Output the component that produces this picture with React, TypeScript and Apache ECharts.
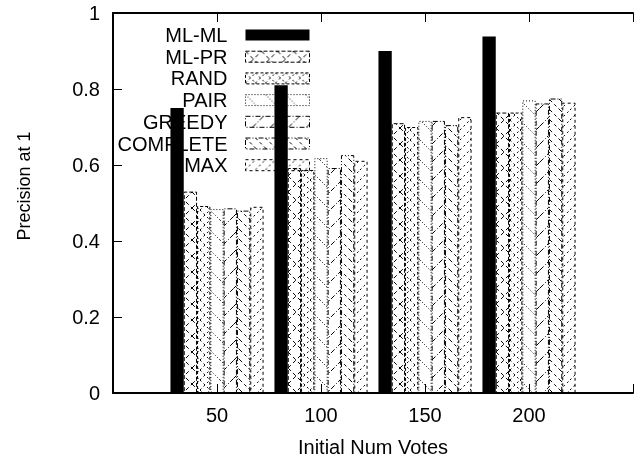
import React, { useEffect, useRef } from 'react';
import * as echarts from 'echarts';

const categories = ['50', '100', '150', '200'];
const seriesNames = ['ML-ML', 'ML-PR', 'RAND', 'PAIR', 'GREEDY', 'COMPLETE', 'MAX'];
const mlMl = [0.75, 0.81, 0.9, 0.938];
const mlPr = [0.53, 0.592, 0.71, 0.738];
const rand = [0.492, 0.587, 0.7, 0.738];
const pair = [0.484, 0.618, 0.716, 0.77];
const greedy = [0.486, 0.592, 0.716, 0.762];
const complete = [0.48, 0.626, 0.705, 0.775];
const maxVals = [0.49, 0.611, 0.726, 0.764];
const yMin = 0;
const yMax = 1;
const yStep = 0.2;

const FONT = '"Liberation Sans", Arial, Helvetica, sans-serif';

type Dir = '/' | '\\';

function makeTile(size: number, dirs: Dir[], dash: number[]) {
  const c = document.createElement('canvas');
  c.width = size;
  c.height = size;
  const ctx = c.getContext('2d')!;
  ctx.strokeStyle = '#000';
  ctx.lineWidth = 1;
  ctx.setLineDash(dash);
  for (const d of dirs) {
    for (const k of [-1, 0, 1]) {
      ctx.beginPath();
      if (d === '/') {
        ctx.moveTo(k * size, size);
        ctx.lineTo(k * size + size, 0);
      } else {
        ctx.moveTo(k * size, 0);
        ctx.lineTo(k * size + size, size);
      }
      ctx.stroke();
    }
  }
  return { image: c.toDataURL(), repeat: 'repeat', imageWidth: size, imageHeight: size };
}

export default function App() {
  const ref = useRef<HTMLDivElement>(null);
  useEffect(() => {
    if (!ref.current) return;
    const chart = echarts.init(ref.current, undefined, { renderer: 'svg' });
    const values = [mlMl, mlPr, rand, pair, greedy, complete, maxVals];
    const fills: any[] = [
      '#000',
      makeTile(16, ['/', '\\'], [4, 3]),
      makeTile(10, ['/', '\\'], [2, 3]),
      makeTile(20, ['\\'], [1, 2]),
      makeTile(18, ['/'], [5, 2, 1, 2]),
      makeTile(10, ['\\'], [3, 3]),
      makeTile(10, ['/'], [2, 3]),
    ];
    const borders: (number[] | null)[] = [
      null,
      [4, 2],
      [3, 2],
      [1, 2],
      [5, 2, 1, 2],
      [5, 2, 1, 2, 1, 2],
      [3, 3],
    ];
    const styleFor = (i: number) =>
      i === 0
        ? { color: '#000', borderWidth: 0 }
        : { color: fills[i], borderColor: '#000', borderWidth: 1, borderType: borders[i] };

    const axisCats = ['', ...categories, ''];
    chart.setOption({
      animation: false,
      grid: { left: 113, right: -10, top: 13, bottom: 69, containLabel: false },
      legend: {
        orient: 'vertical',
        align: 'right',
        right: 326,
        top: 25,
        icon: 'rect',
        itemWidth: 64,
        itemHeight: 11,
        itemGap: 1.7,
        padding: 0,
        selectedMode: false,
        z: 4,
        textStyle: { fontSize: 20, color: '#000', fontFamily: FONT, padding: [0, 13, 0, 0] },
        data: seriesNames.map((name, i) => ({
          name,
          itemStyle: i === 0 ? { color: '#000', borderWidth: 0 } : { borderColor: '#000', borderWidth: 1, borderType: borders[i] },
        })),
      },
      xAxis: [
        {
          type: 'category',
          data: axisCats,
          boundaryGap: false,
          position: 'bottom',
          axisLine: { show: true, lineStyle: { color: '#000', width: 2 } },
          axisTick: { show: true, inside: true, length: 9, lineStyle: { color: '#000', width: 1 } },
          axisLabel: { interval: 0, fontSize: 20, color: '#000', fontFamily: FONT, margin: 12 },
          splitLine: { show: false },
          name: 'Initial Num Votes',
          nameLocation: 'middle',
          nameGap: 44,
          nameTextStyle: { fontSize: 20, color: '#000', fontFamily: FONT },
        },
        {
          type: 'category',
          data: axisCats,
          boundaryGap: false,
          position: 'top',
          axisLine: { show: true, lineStyle: { color: '#000', width: 2 } },
          axisTick: { show: true, inside: true, length: 9, lineStyle: { color: '#000', width: 1 } },
          axisLabel: { show: false },
          splitLine: { show: false },
        },
      ],
      yAxis: {
        type: 'value',
        min: yMin,
        max: yMax,
        interval: yStep,
        axisLine: { show: true, lineStyle: { color: '#000', width: 2 } },
        axisTick: { show: true, inside: true, length: 9, lineStyle: { color: '#000', width: 1 } },
        axisLabel: { fontSize: 20, color: '#000', fontFamily: FONT, margin: 13 },
        splitLine: { show: false },
        name: 'Precision at 1',
        nameLocation: 'middle',
        nameGap: 80,
        nameTextStyle: { fontSize: 18, color: '#000', fontFamily: FONT, padding: [0, 0, 0, 34] },
      },
      series: seriesNames.map((name, i) => ({
        name,
        type: 'bar',
        xAxisIndex: 0,
        yAxisIndex: 0,
        data: [null, ...values[i], null],
        barWidth: 13.3,
        barGap: '0%',
        z: 6,
        itemStyle: styleFor(i),
        emphasis: { disabled: true },
      })),
    });
    return () => chart.dispose();
  }, []);
  return <div ref={ref} style={{ position: 'fixed', left: 0, top: 0, width: 636, height: 462 }} />;
}
